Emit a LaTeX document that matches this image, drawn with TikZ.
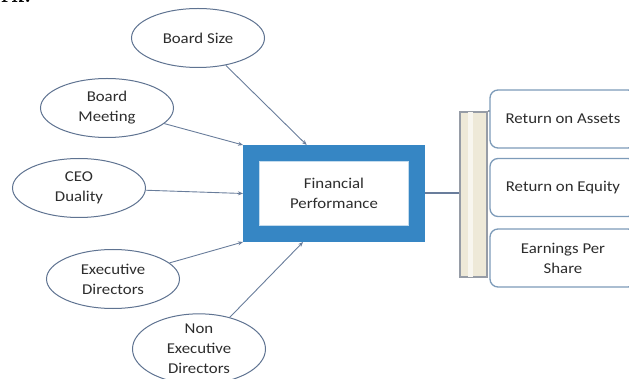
\documentclass[tikz,border=0pt]{standalone}
\usepackage{fontspec}
\setmainfont{Carlito}[FakeStretch=1.12]
\usetikzlibrary{calc,shapes.geometric,arrows.meta}
\definecolor{framebl}{RGB}{54,134,196}
\definecolor{ovalln}{RGB}{95,115,145}
\definecolor{linkln}{RGB}{105,125,155}
\definecolor{boxln}{RGB}{125,155,185}
\definecolor{barfill}{RGB}{238,233,216}
\definecolor{barln}{RGB}{150,156,166}
\definecolor{txt}{RGB}{45,45,45}
\tikzset{
  x=1pt, y=-1pt,
  every node/.style={text=txt, font=\fontsize{15}{20}\selectfont, align=center},
  oval/.style={ellipse, draw=ovalln, line width=1pt, fill=white, inner sep=0pt,
               minimum width=133pt, minimum height=59pt},
  perf/.style={rectangle, draw=framebl, line width=16pt, fill=white,
               minimum width=166pt, minimum height=81pt},
  ratio/.style={rectangle, rounded corners=8pt, draw=boxln, line width=1.3pt, fill=white,
                minimum width=146pt, minimum height=58pt},
  brace/.style={rectangle, draw=barln, line width=1.6pt, fill=barfill,
                minimum width=27pt, minimum height=165pt, inner sep=0pt},
  link/.style={draw=linkln, line width=0.9pt, -{Stealth[length=5pt,width=4pt]}},
  feed/.style={draw=linkln, line width=2pt}
}
\begin{document}
\begin{tikzpicture}
\useasboundingbox (0,0) rectangle (629,379);
\begin{scope}
\clip (0,0) rectangle (629,379);

% heading fragment cut by the top margin
\node[anchor=base west, inner sep=0pt, text=black,
      font=\fontspec{Latin Modern Roman}\bfseries\fontsize{22}{22}\selectfont] (head) at (1,3) {rk.};

% central outcome box
\node[perf] (fp) at (334,193.5) {Financial\\Performance};
\draw[white!70!framebl, line width=1pt] ($(fp.north west)+(16.5,16.5)$) rectangle ($(fp.south east)+(-16.5,-16.5)$);

% governance factors
\node[oval] (bs) at (198,38) {Board Size};
\node[oval] (bm) at (107,108) {Board\\Meeting};
\node[oval] (ceo) at (79,188) {CEO\\Duality};
\node[oval] (ed) at (113,279) {Executive\\Directors};
\node[oval, minimum height=60pt] (ned) at (199,349) {Non\\Executive\\Directors};

% arrow targets on the outcome box
\coordinate (t1) at ($(fp.north west)!0.35!(fp.north east)$);
\coordinate (t2) at (fp.north west);
\coordinate (t3) at (fp.west);
\coordinate (t4) at (fp.south west);
\coordinate (t5) at ($(fp.south west)!0.33!(fp.south east)$);

\draw[link] (bs) -- (t1);
\draw[link] (bm) -- (t2);
\draw[link] (ceo) -- (t3);
\draw[link] (ed) -- (t4);
\draw[link] (ned) -- (t5);

% bracket grouping the performance measures
\node[brace] (br) at (473.5,194.5) {};
\fill[white!60!barfill] ($(br.north west)+(9,1)$) rectangle ($(br.south west)+(14,-1)$);
\draw[barln, line width=1.6pt] (br.north east) -- ++(4,0);
\draw[feed] (fp.east) -- (fp.east -| br.west);

% performance measures
\node[ratio] (roa) at (563,119) {Return on Assets};
\node[ratio] (roe) at (563,187.5) {Return on Equity};
\node[ratio] (eps) at (563,258) {Earnings Per\\Share};
\end{scope}
\end{tikzpicture}
\end{document}
